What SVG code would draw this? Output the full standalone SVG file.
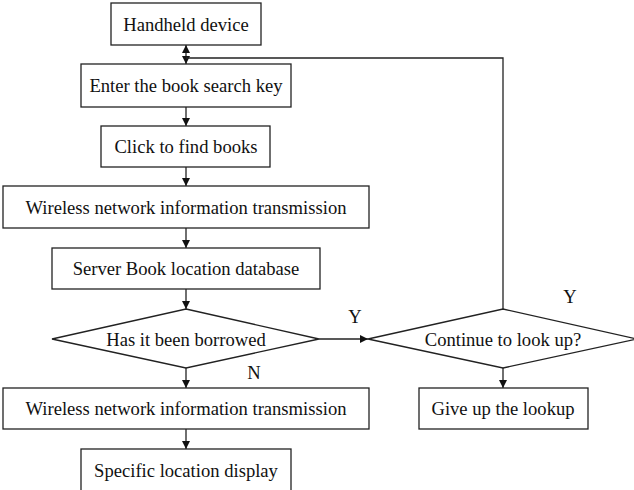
<svg xmlns="http://www.w3.org/2000/svg" width="634" height="490" viewBox="0 0 634 490">
<style>
.b{fill:#fff;stroke:#222;stroke-width:1.3}
.t{font-family:"Liberation Serif","Times New Roman",serif;font-size:18.6px;fill:#111;text-anchor:middle;dominant-baseline:central}
.c{fill:none;stroke:#222;stroke-width:1.3}
</style>
<defs>
<marker id="a" markerWidth="8" markerHeight="8" refX="8" refY="4" orient="auto" markerUnits="userSpaceOnUse">
<path d="M0,0 L8,4 L0,8 Z" fill="#111"/>
</marker>
<marker id="s" markerWidth="8" markerHeight="8" refX="0" refY="4" orient="auto" markerUnits="userSpaceOnUse">
<path d="M8,0 L0,4 L8,8 Z" fill="#111"/>
</marker>
</defs>
<rect width="634" height="490" fill="#fff"/>
<g id="connectors">
<path class="c" d="M186,45 L186,64" marker-start="url(#s)" marker-end="url(#a)"/>
<path class="c" d="M503,309 L503,58 L186,58"/>
<path class="c" d="M186,107 L186,126" marker-end="url(#a)"/>
<path class="c" d="M186,167 L186,186" marker-end="url(#a)"/>
<path class="c" d="M186,228 L186,248" marker-end="url(#a)"/>
<path class="c" d="M186,289 L186,309" marker-end="url(#a)"/>
<path class="c" d="M186,368 L186,388" marker-end="url(#a)"/>
<path class="c" d="M186,429 L186,449" marker-end="url(#a)"/>
<path class="c" d="M319,339 L368,339" marker-end="url(#a)"/>
<path class="c" d="M503,368 L503,388" marker-end="url(#a)"/>
<text class="t" x="355" y="316">Y</text>
<text class="t" x="254" y="372">N</text>
<text class="t" x="570" y="296">Y</text>
</g>
<g id="n1"><rect class="b" x="111" y="3" width="150" height="42"/><text class="t" x="186" y="24">Handheld device</text></g>
<g id="n2"><rect class="b" x="81" y="64" width="210" height="43"/><text class="t" x="186" y="85.5">Enter the book search key</text></g>
<g id="n3"><rect class="b" x="101" y="126" width="169" height="41"/><text class="t" x="186" y="146.5">Click to find books</text></g>
<g id="n4"><rect class="b" x="3" y="186" width="366" height="42"/><text class="t" x="186" y="207">Wireless network information transmission</text></g>
<g id="n5"><rect class="b" x="52" y="248" width="268" height="41"/><text class="t" x="186" y="268.5">Server Book location database</text></g>
<g id="n6"><polygon class="b" points="186,309 319,339 186,368 52,339"/><text class="t" x="186" y="339">Has it been borrowed</text></g>
<g id="n7"><rect class="b" x="3" y="388" width="366" height="41"/><text class="t" x="186" y="408.5">Wireless network information transmission</text></g>
<g id="n8"><rect class="b" x="81" y="449" width="210" height="45"/><text class="t" x="186" y="470">Specific location display</text></g>
<g id="n9"><polygon class="b" points="503,309 637,339 503,368 368,339"/><text class="t" x="503" y="339">Continue to look up?</text></g>
<g id="n10"><rect class="b" x="419" y="388" width="169" height="41"/><text class="t" x="503" y="408.5">Give up the lookup</text></g>
</svg>
